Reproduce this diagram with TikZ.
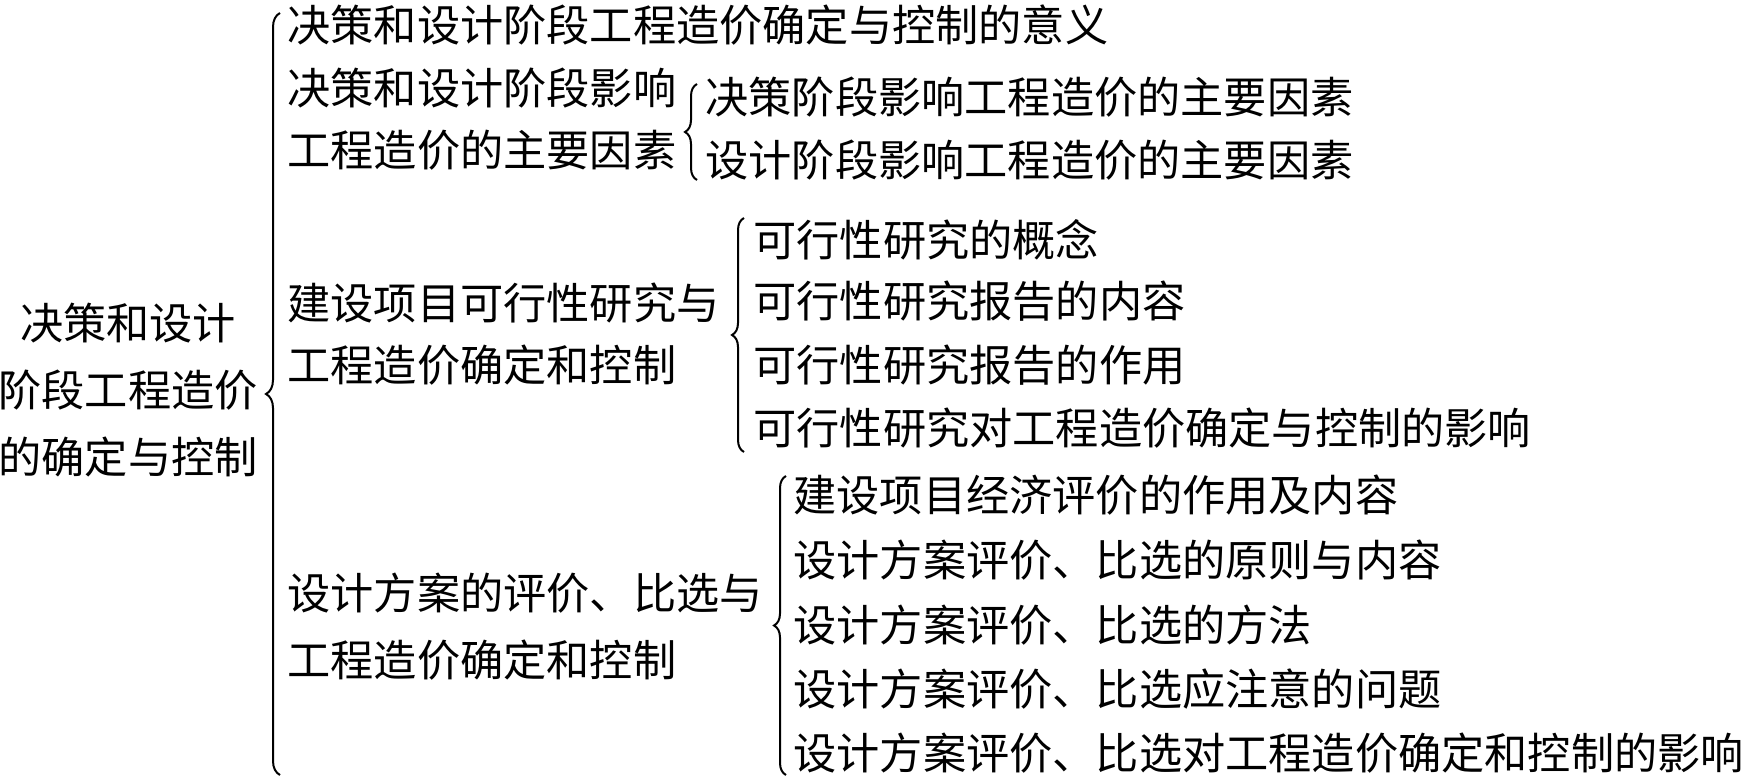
\documentclass[tikz,border=0pt]{standalone}
\usepackage{fontspec}
\setmainfont{Noto Sans CJK SC}
\usepackage{tikz}
\usetikzlibrary{decorations.pathreplacing}
\newcommand{\zstrut}{\rule[-0.12em]{0pt}{1em}}

\begin{document}
\begin{tikzpicture}[x=0.5pt, y=-0.5pt,
  every node/.style={inner sep=0pt, font=\fontsize{21.6}{31}\selectfont},
  item/.style={anchor=west},
  bracedraw/.style={decorate, decoration={brace, amplitude=#1}, line width=1pt},
  bracedraw/.default=6pt]
\useasboundingbox (0,0) rectangle (1749,779);
% root
\node[align=center] (root) at (128,390) {\zstrut 决策和设计\\[2.3pt]\zstrut 阶段工程造价\\[2.3pt]\zstrut 的确定与控制};
% first level
\node[item] (a1) at (287,25) {\zstrut 决策和设计阶段工程造价确定与控制的意义};
\node[item, align=left] (a2) at (287,119) {\zstrut 决策和设计阶段影响\\\zstrut 工程造价的主要因素};
\node[item, align=left] (a3) at (287,334) {\zstrut 建设项目可行性研究与\\\zstrut 工程造价确定和控制};
\node[item, align=left] (a4) at (287,626.5) {\zstrut 设计方案的评价、比选与\\[2.5pt]\zstrut 工程造价确定和控制};
% factors
\node[item] (f1) at (705,97) {\zstrut 决策阶段影响工程造价的主要因素};
\node[item] (f2) at (705,160) {\zstrut 设计阶段影响工程造价的主要因素};
% feasibility study
\node[item] (k1) at (753,240) {\zstrut 可行性研究的概念};
\node[item] (k2) at (753,301) {\zstrut 可行性研究报告的内容};
\node[item] (k3) at (753,365) {\zstrut 可行性研究报告的作用};
\node[item] (k4) at (753,428) {\zstrut 可行性研究对工程造价确定与控制的影响};
% design schemes
\node[item] (s1) at (793,495) {\zstrut 建设项目经济评价的作用及内容};
\node[item] (s2) at (793,560) {\zstrut 设计方案评价、比选的原则与内容};
\node[item] (s3) at (793,625) {\zstrut 设计方案评价、比选的方法};
\node[item] (s4) at (793,689) {\zstrut 设计方案评价、比选应注意的问题};
\node[item] (s5) at (793,753) {\zstrut 设计方案评价、比选对工程造价确定和控制的影响};
% braces
\draw[bracedraw=7pt] ([xshift=-3.5pt]s5.south -| a1.west) -- ([xshift=-3.5pt, yshift=-5pt]a1.north west);
\draw[bracedraw] ([xshift=-4pt, yshift=1pt]f2.south west) -- ([xshift=-4pt, yshift=-4.5pt]f1.north west);
\draw[bracedraw] ([xshift=-4.5pt, yshift=-1pt]k4.south west) -- ([xshift=-4.5pt]k1.north west);
\draw[bracedraw] ([xshift=-3.5pt]s5.south west) -- ([xshift=-3.5pt, yshift=-1.5pt]s1.north west);
\end{tikzpicture}
\end{document}
